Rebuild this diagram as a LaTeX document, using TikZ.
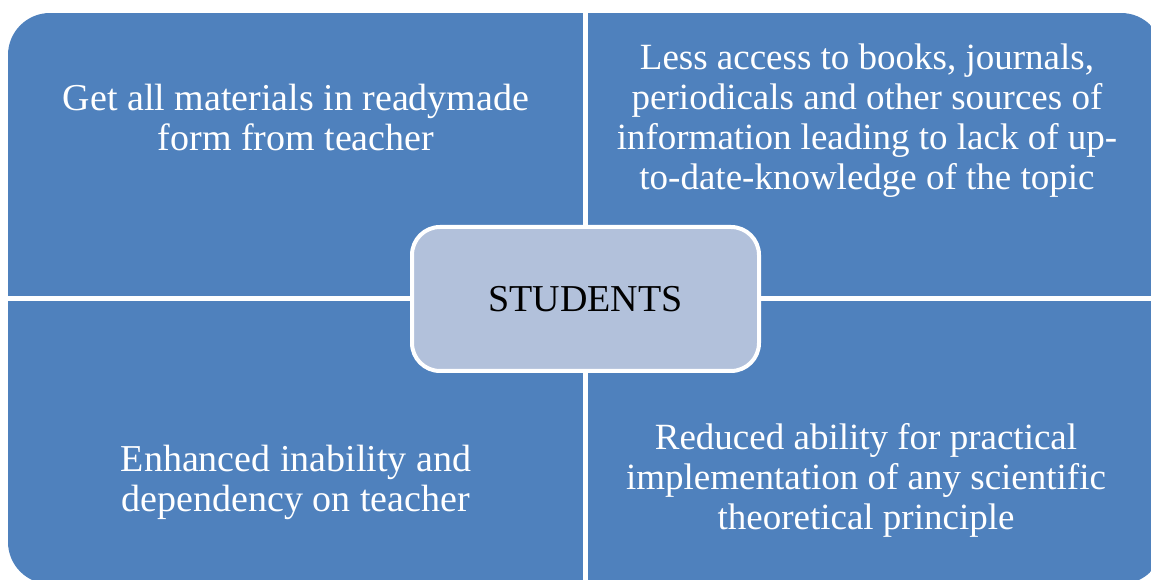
\documentclass[tikz,border=0pt]{standalone}
\usepackage{fontspec}
\setmainfont{Liberation Serif}
\usepackage{xcolor}
\usepackage{tikz}
\usetikzlibrary{positioning}
\definecolor{quadblue}{HTML}{4F81BD}
\definecolor{hubblue}{HTML}{B2C1DB}

\begin{document}
\begin{tikzpicture}[x=1pt, y=1pt, quad/.style={fill=quadblue, draw=none}, quadtext/.style={text=white, align=center, anchor=base, inner sep=0pt, font=\fontsize{38}{40}\selectfont}, smalltext/.style={quadtext, font=\fontsize{37}{40}\selectfont}, hub/.style={rectangle, rounded corners=28pt, draw=white, line width=4pt, fill=hubblue, minimum width=347pt, minimum height=144pt, font=\fontsize{38}{40}\selectfont}]

    \useasboundingbox (0,0) rectangle (1151,580);

    %Quadrants
    \begin{scope}
        \clip[rounded corners=42pt] (8,-4) rectangle (1163,567);
        \fill[quad] (8,284) rectangle (583,567);
        \fill[quad] (588,284) rectangle (1163,567);
        \fill[quad] (8,-4) rectangle (583,279);
        \fill[quad] (588,-4) rectangle (1163,279);
    \end{scope}

    %Nodes (base sits on the last line)
    \node[quadtext](materials) at (296,429){Get all materials in readymade\\form from teacher};
    \node[smalltext](access) at (867,390){Less access to books, journals,\\periodicals and other sources of\\information leading to lack of up-\\to-date-knowledge of the topic};
    \node[quadtext](inability) at (296,68.3){Enhanced inability and\\dependency on teacher};
    \node[smalltext](practical) at (866,50){Reduced ability for practical\\implementation of any scientific\\theoretical principle};
    \node[hub](students) at (585.5,281){STUDENTS};

\end{tikzpicture}
\end{document}
